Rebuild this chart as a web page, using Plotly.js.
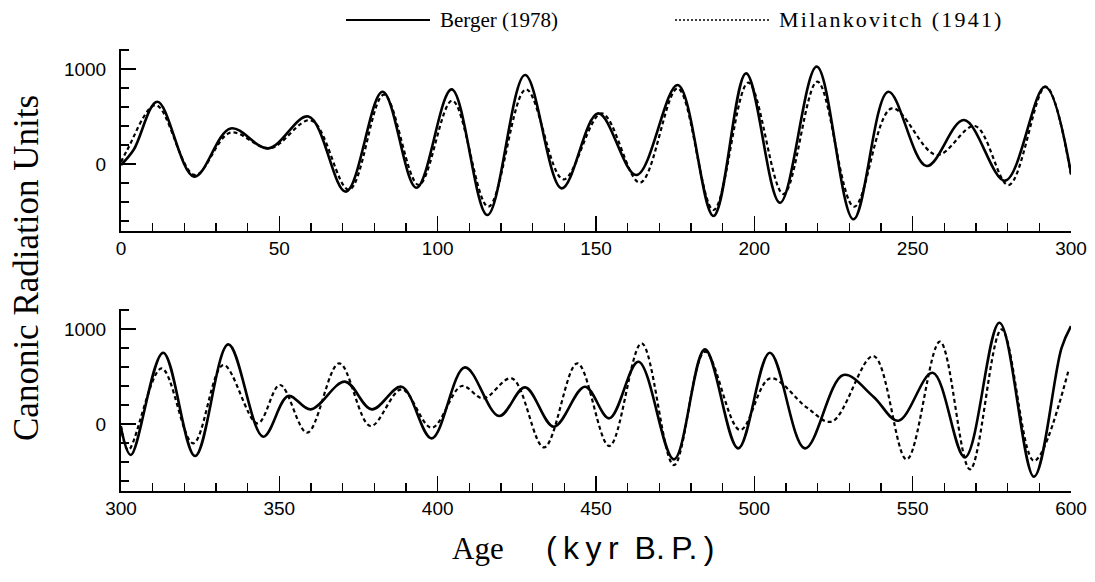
<!DOCTYPE html>
<html>
<head>
<meta charset="utf-8">
<script src="https://cdn.plot.ly/plotly-3.0.1.min.js"></script>
<style>html,body{margin:0;padding:0;background:#fff}#chart{width:1095px;height:582px}</style>
</head>
<body>
<div id="chart"></div>
<script>
// ---- Data ----
// Upper panel: 0-300 kyr B.P.
const bergerAgeTop   = [0, 4, 11.5, 23.1, 34.6, 46.5, 59.2, 71.0, 82.6, 93.3, 104.4, 115.7, 127.6, 139.2, 150.7, 162.8, 175.8, 187.1, 197.4, 208.1, 219.7, 231.3, 242.3, 254.4, 266.2, 279.2, 291.8, 300];
const bergerUnitsTop = [-10, 150, 656, -133, 375, 165, 500, -291, 761, -249, 786, -537, 937, -256, 533, -116, 832, -547, 954, -407, 1025, -582, 761, -21, 463, -175, 814, -98];
const milankAgeTop   = [0, 2, 11, 23.3, 34.5, 47, 60, 72, 83, 94, 104.6, 116, 127.9, 139.7, 151.8, 163.9, 175.8, 187.1, 198.1, 209.2, 219.9, 231.5, 243.4, 257.6, 269.7, 280.3, 292, 300];
const milankUnitsTop = [20, 150, 620, -115, 330, 165, 460, -270, 730, -220, 667, -449, 786, -161, 533, -196, 796, -484, 856, -316, 867, -449, 586, 95, 400, -221, 814, -116];
// Lower panel: 300-600 kyr B.P.
const bergerAgeBot   = [300, 303.1, 313.3, 323.4, 333.9, 344.9, 352.8, 359.9, 370.7, 379.2, 388.6, 398.1, 408.6, 419.4, 427.6, 436.7, 446.5, 454.2, 463.4, 474.6, 484.4, 494.9, 504.9, 516.0, 528.1, 537.6, 545.5, 556.3, 566.5, 577.4, 588.3, 597, 600];
const bergerUnitsBot = [-40, -326, 751, -337, 839, -133, 295, 154, 446, 154, 393, -151, 596, 84, 386, -28, 393, 60, 656, -372, 786, -256, 751, -256, 516, 288, 35, 540, -351, 1067, -554, 800, 1030];
const milankAgeBot   = [300, 302.3, 312.8, 322.8, 332.3, 343.1, 350.2, 358.8, 368.9, 378.8, 388.6, 398.1, 407.6, 414.4, 423.4, 433.6, 444.1, 454.2, 464.4, 474.6, 484.4, 495.5, 505, 516.5, 524.4, 537.6, 548.1, 558.6, 568.1, 578.1, 588.3, 599.1];
const milankUnitsBot = [-20, -274, 586, -203, 621, 7, 411, -91, 639, -21, 365, -39, 400, 270, 481, -246, 639, -232, 849, -432, 761, -63, 481, 176, 25, 716, -372, 867, -477, 996, -386, 551];

const seriesNames = ['Berger (1978)', 'Milankovitch (1941)'];
const yTickVals = [0, 1000];
const yTickText = ['0', '1000'];

const solid = {color: '#000', width: 2.6, shape: 'spline', smoothing: 1};
const dashed = {color: '#000', width: 2.2, dash: '4px,3px', shape: 'spline', smoothing: 1};

const traces = [
  {x: bergerAgeTop, y: bergerUnitsTop, mode: 'lines', line: solid, name: seriesNames[0], xaxis: 'x', yaxis: 'y'},
  {x: milankAgeTop, y: milankUnitsTop, mode: 'lines', line: dashed, name: seriesNames[1], xaxis: 'x', yaxis: 'y'},
  {x: bergerAgeBot, y: bergerUnitsBot, mode: 'lines', line: solid, name: seriesNames[0], xaxis: 'x2', yaxis: 'y2'},
  {x: milankAgeBot, y: milankUnitsBot, mode: 'lines', line: dashed, name: seriesNames[1], xaxis: 'x2', yaxis: 'y2'}
];

const tickFont = {family: 'Liberation Sans, Arial, sans-serif', size: 19, color: '#000'};
const xDom = [121/1095, 1071/1095];

function xAxis(range, anchor) {
  return {
    domain: xDom, range: range, anchor: anchor,
    showline: true, linewidth: 2, linecolor: '#000', mirror: false,
    showgrid: false, zeroline: false,
    ticks: 'inside', ticklen: 15, tickwidth: 1.6, tickcolor: '#000',
    dtick: 50, tick0: 0, tickfont: tickFont, ticklabelstandoff: -1,
    minor: {dtick: 10, tick0: 0, ticks: 'inside', ticklen: 8, tickwidth: 1.4, tickcolor: '#000', showgrid: false},
    automargin: false, fixedrange: true
  };
}
function yAxis(domain, anchor) {
  return {
    domain: domain, range: [-705, 1211], anchor: anchor,
    showline: true, linewidth: 2, linecolor: '#000',
    showgrid: false, zeroline: false,
    ticks: 'inside', ticklen: 15, tickwidth: 1.6, tickcolor: '#000',
    tickvals: yTickVals, ticktext: yTickText, tickfont: tickFont, ticklabelstandoff: 9,
    minor: {dtick: 200, tick0: 0, ticks: 'inside', ticklen: 8, tickwidth: 1.4, tickcolor: '#000', showgrid: false},
    automargin: false, fixedrange: true
  };
}

const serif = 'Liberation Serif, Times New Roman, serif';
const sans = 'Liberation Sans, Arial, sans-serif';

const layout = {
  width: 1095, height: 582,
  margin: {l: 0, r: 0, t: 0, b: 0},
  paper_bgcolor: '#fff', plot_bgcolor: 'rgba(0,0,0,0)',
  showlegend: false,
  xaxis: xAxis([0, 300], 'y'),
  yaxis: yAxis([(582-231)/582, (582-49)/582], 'x'),
  xaxis2: xAxis([300, 600], 'y2'),
  yaxis2: yAxis([(582-491)/582, (582-309)/582], 'x2'),
  shapes: [
    {type: 'line', xref: 'paper', yref: 'paper', x0: 346/1095, x1: 430/1095, y0: (582-20)/582, y1: (582-20)/582, line: {color: '#000', width: 2}},
    {type: 'line', xref: 'paper', yref: 'paper', x0: 675/1095, x1: 769/1095, y0: (582-20)/582, y1: (582-20)/582, line: {color: '#000', width: 1.6, dash: '2px,2px'}}
  ],
  annotations: [
    {text: seriesNames[0], xref: 'paper', yref: 'paper', x: 438/1095, y: (582-20)/582, xanchor: 'left', yanchor: 'middle', showarrow: false, font: {family: serif, size: 21, color: '#000'}},
    {text: seriesNames[1], xref: 'paper', yref: 'paper', x: 798/1095, y: (582-20)/582, xanchor: 'left', yanchor: 'middle', showarrow: false, font: {family: serif, size: 22, color: '#000'}},
    {text: 'Canonic Radiation Units', xref: 'paper', yref: 'paper', x: 26/1095, y: (582-268)/582, xanchor: 'center', yanchor: 'middle', textangle: -90, showarrow: false, font: {family: serif, size: 35, color: '#000'}},
    {text: 'Age', xref: 'paper', yref: 'paper', x: 478/1095, y: (582-548)/582, xanchor: 'center', yanchor: 'middle', showarrow: false, font: {family: serif, size: 31, color: '#000'}},
    {text: '(\u2009k\u2009y\u2009r\u2002B.\u2009P.\u2009)', xref: 'paper', yref: 'paper', x: 630/1095, y: (582-548)/582, xanchor: 'center', yanchor: 'middle', showarrow: false, font: {family: sans, size: 32, color: '#000'}}
  ]
};

Plotly.newPlot('chart', traces, layout, {staticPlot: true, displayModeBar: false}).then(function (gd) {
  // the reference sets the Milankovitch legend text a little wider
  const texts = gd.querySelectorAll('.annotation-text');
  texts.forEach(function (t) {
    if (t.textContent.indexOf('Milankovitch') === 0) t.style.letterSpacing = '2.2px';
  });
});
</script>
</body>
</html>
